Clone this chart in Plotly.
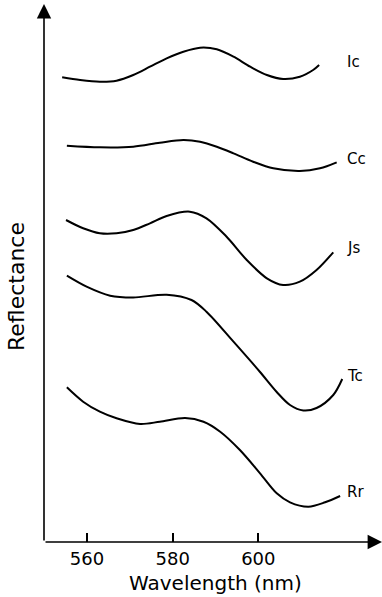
import plotly.graph_objects as go

# ---- data (wavelength in nm, reflectance in arbitrary units) ----
ic_x = [554.2, 558.4, 563.0, 566.9, 570.8, 574.7, 578.6, 582.5, 586.4, 590.3, 594.2, 598.1, 602.0, 605.8, 609.7, 612.8, 614.2]
ic_y = [464.7, 462.0, 460.3, 461.3, 467.0, 475.3, 483.7, 490.3, 494.3, 492.7, 485.3, 475.3, 467.0, 463.0, 465.3, 472.0, 477.0]

cc_x = [555.3, 563.0, 570.8, 577.0, 582.5, 586.4, 590.3, 594.2, 598.8, 603.5, 609.7, 614.4, 618.3]
cc_y = [396.3, 394.7, 395.3, 399.3, 402.0, 400.3, 395.3, 388.7, 380.3, 373.7, 371.0, 373.7, 379.7]

js_x = [555.1, 559.1, 563.0, 566.9, 570.8, 574.7, 578.6, 584.0, 587.9, 592.6, 597.3, 602.0, 605.8, 609.7, 613.6, 617.5]
js_y = [322.0, 313.7, 308.7, 308.7, 312.0, 318.7, 326.0, 330.3, 323.7, 305.3, 282.0, 263.7, 257.0, 260.3, 272.0, 289.7]

tc_x = [555.3, 559.9, 565.4, 570.8, 578.6, 584.4, 587.9, 594.2, 600.4, 604.3, 607.4, 610.5, 613.6, 617.5, 619.6]
tc_y = [266.3, 255.3, 246.3, 244.5, 247.3, 242.0, 230.3, 200.3, 170.0, 150.0, 137.0, 131.5, 134.0, 147.0, 163.0]

rr_x = [555.3, 559.1, 563.0, 566.9, 572.4, 577.0, 582.9, 587.2, 591.1, 595.7, 600.4, 604.3, 607.4, 611.7, 615.6, 619.1]
rr_y = [154.7, 140.3, 130.3, 123.7, 118.0, 120.3, 124.0, 120.3, 110.3, 92.0, 68.7, 48.7, 39.7, 35.3, 39.7, 46.0]

series_names = ["Ic", "Cc", "Js", "Tc", "Rr"]
label_y = [480, 383, 294, 166, 50]

tick_vals = [560, 580, 600]
tick_text = ["560", "580", "600"]

x_range = [549.96, 628.88]
y_range = [0, 538]

FONT = "DejaVu Sans"

fig = go.Figure()
for xs, ys in [(ic_x, ic_y), (cc_x, cc_y), (js_x, js_y), (tc_x, tc_y), (rr_x, rr_y)]:
    fig.add_trace(go.Scatter(x=xs, y=ys, mode="lines",
                             line=dict(color="black", width=2, shape="spline", smoothing=0.9),
                             showlegend=False, hoverinfo="skip"))

annotations = []
for name, ly in zip(series_names, label_y):
    annotations.append(dict(x=620.2, y=ly, xref="x", yref="y", text=name, showarrow=False,
                            xanchor="left", yanchor="middle",
                            font=dict(family=FONT, size=15, color="black")))

# axis arrows
annotations.append(dict(x=x_range[1], y=0, ax=x_range[0], ay=0, xref="x", yref="y",
                        axref="x", ayref="y", text="", showarrow=True, arrowhead=2,
                        arrowsize=1.8, arrowwidth=1.6, arrowcolor="black"))
annotations.append(dict(x=x_range[0], y=y_range[1], ax=x_range[0], ay=0, xref="x", yref="y",
                        axref="x", ayref="y", text="", showarrow=True, arrowhead=2,
                        arrowsize=1.8, arrowwidth=1.6, arrowcolor="black"))

# titles
annotations.append(dict(x=(215 - 44) / 338, y=-41 / 538, xref="paper", yref="paper",
                        text="Wavelength (nm)", showarrow=False, xanchor="center", yanchor="middle",
                        font=dict(family=FONT, size=20, color="black")))
annotations.append(dict(x=(16 - 44) / 338, y=(542 - 287) / 538, xref="paper", yref="paper",
                        text="Reflectance", showarrow=False, textangle=-90,
                        xanchor="center", yanchor="middle",
                        font=dict(family=FONT, size=22, color="black")))

fig.update_layout(
    template="none",
    width=382, height=597,
    margin=dict(l=44, r=0, t=4, b=55, pad=0),
    paper_bgcolor="white", plot_bgcolor="white",
    annotations=annotations,
    xaxis=dict(range=x_range, showgrid=False, zeroline=False, showline=False,
               automargin=False,
               tickvals=tick_vals, ticktext=tick_text, ticks="inside", ticklen=9,
               tickwidth=1.5, tickcolor="black", ticklabelstandoff=4,
               tickfont=dict(family=FONT, size=18, color="black")),
    yaxis=dict(range=y_range, showgrid=False, zeroline=False, showline=False,
               automargin=False, showticklabels=False, ticks=""),
)

fig.write_html("out.html", config={"displayModeBar": False},
               post_script="document.body.style.margin='0';document.body.style.overflow='hidden';")
